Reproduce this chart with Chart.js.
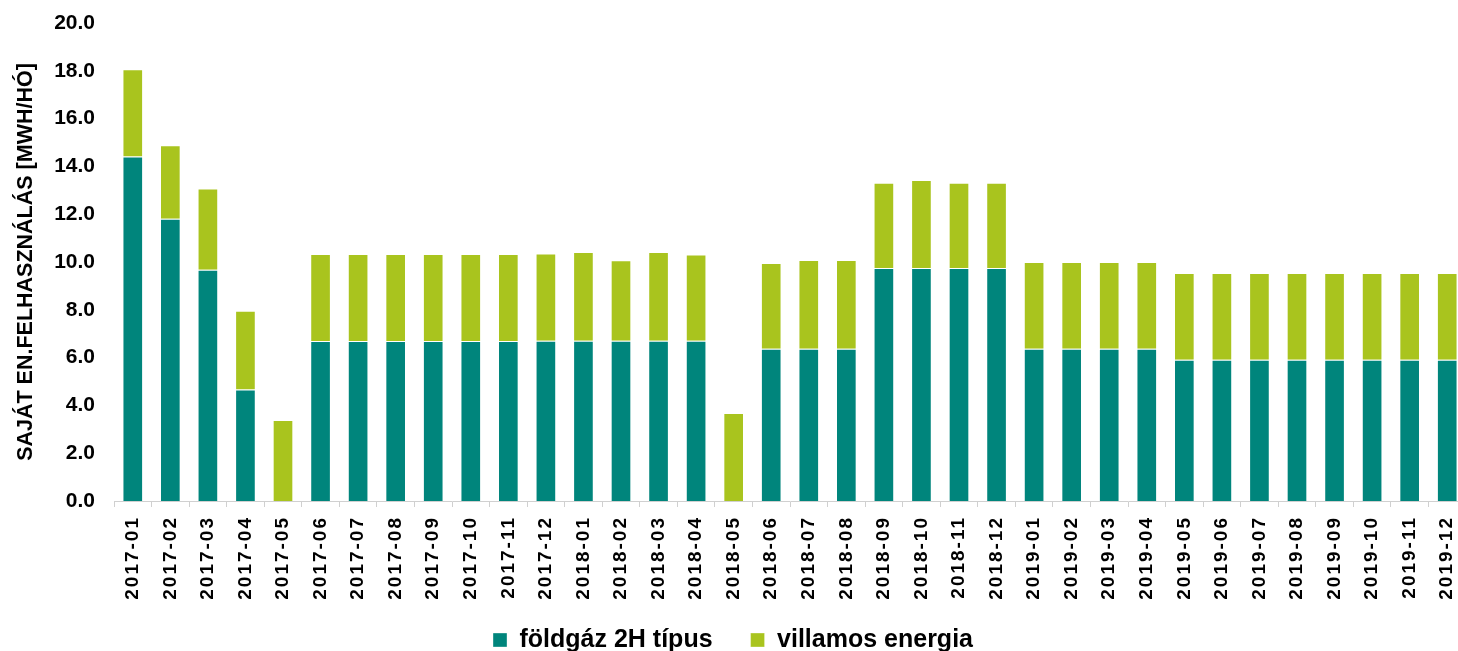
<!DOCTYPE html>
<html>
<head>
<meta charset="utf-8">
<script src="https://cdn.jsdelivr.net/npm/chart.js@4/dist/chart.umd.min.js"></script>
<style>
  html, body { margin: 0; padding: 0; background: #fff; overflow: hidden; }
  #wrap { position: relative; width: 1467px; height: 691px; }
</style>
</head>
<body>
<div id="wrap"><canvas id="c"></canvas></div>
<script>
const categories = [
  '2017-01','2017-02','2017-03','2017-04','2017-05','2017-06','2017-07','2017-08','2017-09','2017-10','2017-11','2017-12',
  '2018-01','2018-02','2018-03','2018-04','2018-05','2018-06','2018-07','2018-08','2018-09','2018-10','2018-11','2018-12',
  '2019-01','2019-02','2019-03','2019-04','2019-05','2019-06','2019-07','2019-08','2019-09','2019-10','2019-11','2019-12'
];
const gasValues = [
  14.41, 11.81, 9.68, 4.67, 0, 6.69, 6.69, 6.69, 6.69, 6.69, 6.69, 6.70,
  6.71, 6.71, 6.71, 6.71, 0, 6.37, 6.37, 6.37, 9.75, 9.75, 9.75, 9.75,
  6.37, 6.37, 6.37, 6.37, 5.91, 5.91, 5.91, 5.91, 5.91, 5.91, 5.91, 5.91
];
const electricityValues = [
  3.65, 3.07, 3.40, 3.29, 3.39, 3.64, 3.64, 3.64, 3.64, 3.64, 3.64, 3.66,
  3.71, 3.36, 3.71, 3.60, 3.68, 3.59, 3.71, 3.71, 3.57, 3.68, 3.57, 3.57,
  3.63, 3.63, 3.63, 3.63, 3.63, 3.63, 3.63, 3.63, 3.63, 3.63, 3.63, 3.63
];
const seriesNames = ['földgáz 2H típus', 'villamos energia'];
const yTitle = 'SAJÁT EN.FELHASZNÁLÁS [MWH/HÓ]';
const yTicks = { min: 0, max: 20, step: 2 };

const FONT = '"Liberation Sans", Arial, Helvetica, sans-serif';
Chart.defaults.font.family = FONT;
Chart.defaults.color = '#000';

const LEGEND_FONT = 25, LEGEND_PAD = 38, LEGEND_TEXT_CENTER = 640;

const customPlugin = {
  id: 'customLayout',
  afterLayout(chart) {
    const lg = chart.legend;
    if (!lg) return;
    const targetTop = LEGEND_TEXT_CENTER - LEGEND_FONT / 2 - LEGEND_PAD;
    const dy = lg.top - targetTop;
    lg.top -= dy; lg.bottom -= dy;
  },
  afterDatasetsDraw(chart) { chart.ctx.letterSpacing = '2px'; },
  afterDraw(chart) { chart.ctx.letterSpacing = '0px'; }
};

new Chart(document.getElementById('c'), {
  type: 'bar',
  data: {
    labels: categories,
    datasets: [
      { label: seriesNames[0], data: gasValues, backgroundColor: '#00857C',
        borderColor: 'rgba(255,255,255,0.35)', borderWidth: 1,
        barPercentage: 0.55, categoryPercentage: 1 },
      { label: seriesNames[1], data: electricityValues, backgroundColor: '#A9C41E',
        borderColor: 'rgba(255,255,255,0.35)', borderWidth: 1,
        barPercentage: 0.55, categoryPercentage: 1 }
    ]
  },
  options: {
    responsive: true,
    maintainAspectRatio: false,
    animation: false,
    layout: { padding: { top: 23, left: 0, right: 1, bottom: 0 } },
    plugins: {
      tooltip: { enabled: false },
      legend: {
        position: 'bottom',
        labels: {
          boxWidth: 14, boxHeight: 14, padding: LEGEND_PAD,
          font: { size: LEGEND_FONT, weight: 'bold', family: FONT },
          color: '#000'
        }
      }
    },
    scales: {
      x: {
        stacked: true,
        afterFit(s) { s.height = 117; s.paddingLeft = 0; s.paddingRight = 0; },
        grid: { display: true, drawOnChartArea: false, drawTicks: true, tickLength: 6, color: '#d0d0d0', offset: true },
        border: { display: true, color: '#d0d0d0', width: 1 },
        ticks: {
          z: 1, autoSkip: false, maxRotation: 90, minRotation: 90, padding: 9,
          font: { size: 19, weight: 'bold', family: FONT }, color: '#000'
        }
      },
      y: {
        stacked: true,
        min: yTicks.min, max: yTicks.max,
        afterFit(s) { s.width = 114; s.paddingTop = 0; s.paddingBottom = 0; },
        grid: { display: false, drawTicks: false },
        border: { display: false },
        ticks: {
          stepSize: yTicks.step, padding: 19,
          font: { size: 21, weight: 'bold', family: FONT }, color: '#000',
          callback: v => Number(v).toFixed(1)
        },
        title: {
          display: true, text: yTitle, color: '#000',
          font: { size: 21.5, weight: 'bold', family: FONT },
          padding: { top: 13, bottom: 0 }
        }
      }
    }
  },
  plugins: [customPlugin]
});
</script>
</body>
</html>
